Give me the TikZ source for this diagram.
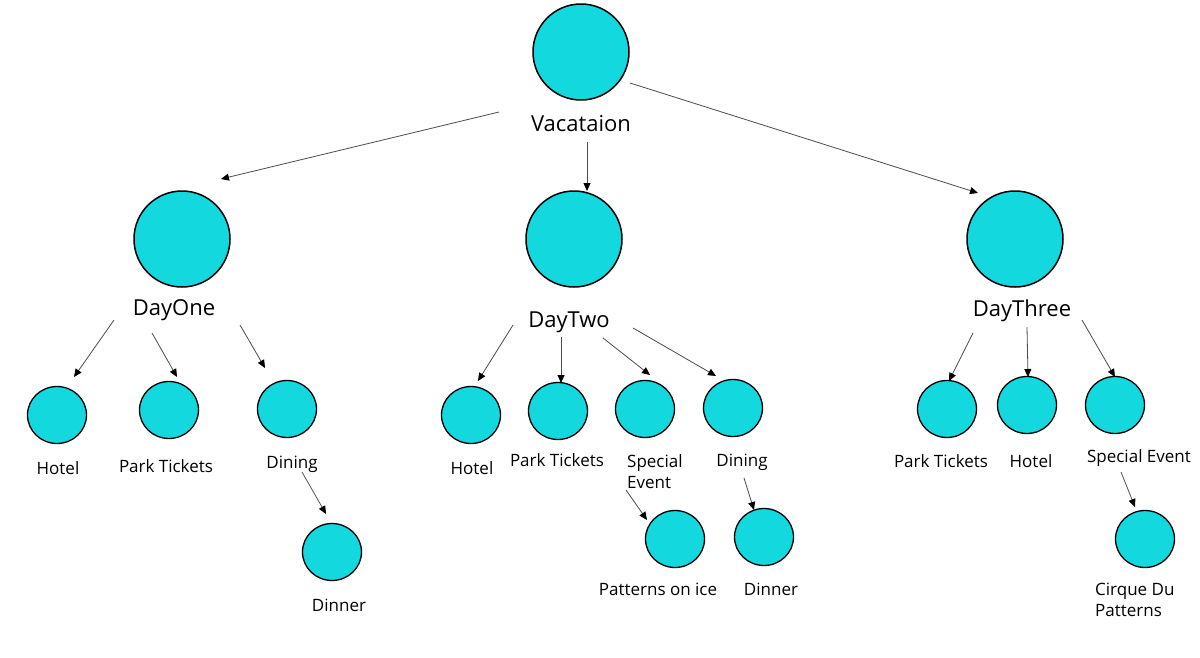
\documentclass[tikz,border=0pt]{standalone}
\usepackage{fontspec}
\setmainfont{Open Sans}
\usetikzlibrary{arrows.meta,shapes.geometric}
\definecolor{tealfill}{RGB}{19,216,222}
\begin{document}
\begin{tikzpicture}[x=1pt,y=-1pt,
  bigc/.style={circle,draw=black,line width=1.5pt,fill=tealfill,minimum size=96pt,inner sep=0pt},
  smallc/.style={ellipse,draw=black,line width=1.3pt,fill=tealfill,minimum width=59pt,minimum height=57pt,inner sep=0pt},
  biglbl/.style={font=\fontsize{22}{26}\selectfont,inner sep=0pt,anchor=base},
  lbl/.style={font=\fontsize{17}{21}\selectfont,inner sep=0pt,anchor=base},
  lbl2/.style={font=\fontsize{17}{21}\selectfont,inner sep=0pt,anchor=base west,align=left},
  arr/.style={draw=black!70,line width=0.8pt,-{Triangle[length=8pt,width=7pt,fill=black,color=black]}}
]
\path[use as bounding box,fill=white] (0,0) rectangle (1200,657);

% ---- top level
\node[bigc] (vac) at (581,52) {};
\node[biglbl] (vacl) at (581,131) {Vacataion};

\node[bigc] (d1) at (182,239) {};
\node[biglbl] (d1l) at (174,315) {DayOne};
\node[bigc] (d2) at (574,239) {};
\node[biglbl] (d2l) at (569,327) {DayTwo};
\node[bigc] (d3) at (1015,239) {};
\node[biglbl] (d3l) at (1022,316) {DayThree};

\coordinate (v1s) at (499,112); \coordinate (v1e) at (221,179);
\coordinate (v2s) at (587,142); \coordinate (v2e) at (587,191);
\coordinate (v3s) at (630,83);  \coordinate (v3e) at (978,193);
\draw[arr] (v1s) -- (v1e);
\draw[arr] (v2s) -- (v2e);
\draw[arr] (v3s) -- (v3e);

% ---- DayOne subtree
\node[smallc] (a1) at (57,415) {};
\node[lbl] (a1l) at (58,474) {Hotel};
\node[smallc] (a2) at (169,410) {};
\node[lbl] (a2l) at (166,472) {Park Tickets};
\node[smallc] (a3) at (287,409) {};
\node[lbl] (a3l) at (292,468) {Dining};
\node[smallc] (a4) at (332,552) {};
\node[lbl] (a4l) at (339,611) {Dinner};

\coordinate (a1s) at (114,320); \coordinate (a1e) at (74,377);
\coordinate (a2s) at (152,333); \coordinate (a2e) at (177,377);
\coordinate (a3s) at (240,325); \coordinate (a3e) at (265,368);
\coordinate (a4s) at (302,472); \coordinate (a4e) at (326,514);
\draw[arr] (a1s) -- (a1e);
\draw[arr] (a2s) -- (a2e);
\draw[arr] (a3s) -- (a3e);
\draw[arr] (a4s) -- (a4e);

% ---- DayTwo subtree
\node[smallc] (b1) at (471,415) {};
\node[lbl] (b1l) at (472,474) {Hotel};
\node[smallc] (b2) at (558,411) {};
\node[lbl] (b2l) at (557,466) {Park Tickets};
\node[smallc] (b3) at (645,409) {};
\node[lbl2] (b3l) at (627,488) {Special\\Event};
\node[smallc] (b4) at (733,408) {};
\node[lbl] (b4l) at (742,466) {Dining};
\node[smallc] (b5) at (675,539) {};
\node[lbl] (b5l) at (658,595) {Patterns on ice};
\node[smallc] (b6) at (764,537) {};
\node[lbl] (b6l) at (771,595) {Dinner};

\coordinate (b1s) at (513,325); \coordinate (b1e) at (478,381);
\coordinate (b2s) at (561,337); \coordinate (b2e) at (561,383);
\coordinate (b3s) at (603,338); \coordinate (b3e) at (650,375);
\coordinate (b4s) at (633,328); \coordinate (b4e) at (716,376);
\coordinate (b5s) at (626,490); \coordinate (b5e) at (647,520);
\coordinate (b6s) at (744,478); \coordinate (b6e) at (754,510);
\draw[arr] (b1s) -- (b1e);
\draw[arr] (b2s) -- (b2e);
\draw[arr] (b3s) -- (b3e);
\draw[arr] (b4s) -- (b4e);
\draw[arr] (b5s) -- (b5e);
\draw[arr] (b6s) -- (b6e);

% ---- DayThree subtree
\node[smallc] (c1) at (947,409) {};
\node[lbl] (c1l) at (941,467) {Park Tickets};
\node[smallc] (c2) at (1027,405) {};
\node[lbl] (c2l) at (1031,467) {Hotel};
\node[smallc] (c3) at (1115,405) {};
\node[lbl] (c3l) at (1139,462) {Special Event};
\node[smallc] (c4) at (1145,539) {};
\node[lbl2] (c4l) at (1095,616) {Cirque Du\\Patterns};

\coordinate (c1s) at (973,333); \coordinate (c1e) at (949,381);
\coordinate (c2s) at (1027,327); \coordinate (c2e) at (1028,377);
\coordinate (c3s) at (1082,320); \coordinate (c3e) at (1115,377);
\coordinate (c4s) at (1121,472); \coordinate (c4e) at (1135,507);
\draw[arr] (c1s) -- (c1e);
\draw[arr] (c2s) -- (c2e);
\draw[arr] (c3s) -- (c3e);
\draw[arr] (c4s) -- (c4e);
\end{tikzpicture}
\end{document}
